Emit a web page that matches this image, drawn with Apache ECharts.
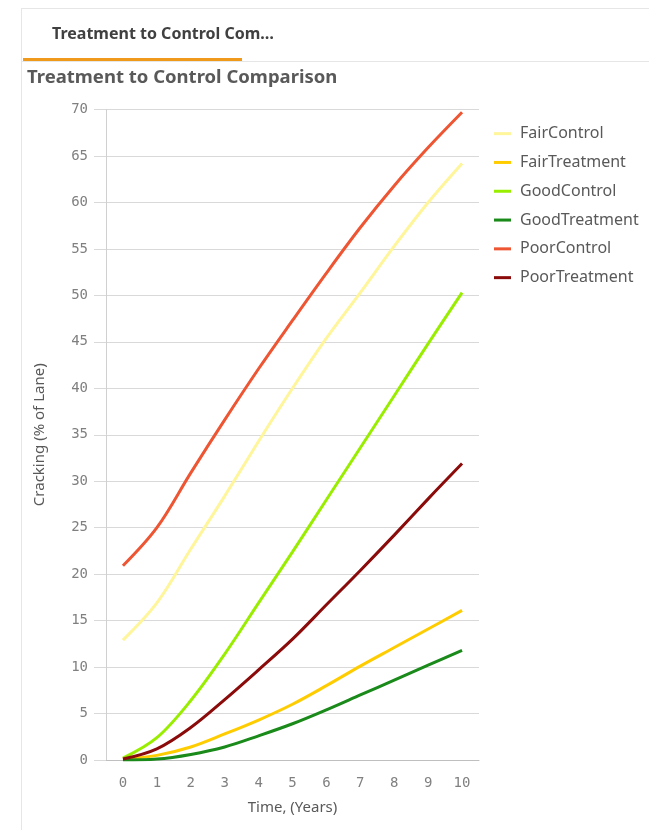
<!DOCTYPE html>
<html>
<head>
<meta charset="utf-8">
<script src="https://cdn.jsdelivr.net/npm/echarts@6/dist/echarts.min.js"></script>
<style>
html,body{margin:0;padding:0;background:#fff;}
#c{width:649px;height:830px;}
</style>
</head>
<body>
<div id="c"></div>
<script>
const years = ['0','1','2','3','4','5','6','7','8','9','10'];
const fairControl    = [12.9, 16.9, 22.7, 28.4, 34.3, 40.0, 45.4, 50.3, 55.3, 60.0, 64.2];
const fairTreatment  = [0.1, 0.5, 1.4, 2.8, 4.3, 6.0, 8.0, 10.1, 12.1, 14.1, 16.1];
const goodControl    = [0.2, 2.4, 6.4, 11.4, 16.9, 22.4, 28.0, 33.6, 39.2, 44.8, 50.3];
const goodTreatment  = [0.0, 0.1, 0.6, 1.4, 2.6, 3.9, 5.4, 7.0, 8.6, 10.2, 11.8];
const poorControl    = [20.9, 25.0, 30.9, 36.6, 42.1, 47.3, 52.4, 57.3, 61.8, 65.9, 69.7];
const poorTreatment  = [0.1, 1.2, 3.5, 6.5, 9.7, 13.0, 16.7, 20.4, 24.2, 28.1, 31.9];
const seriesNames = ['FairControl','FairTreatment','GoodControl','GoodTreatment','PoorControl','PoorTreatment'];
const seriesColors = ['#fff59a','#ffcc00','#99ee00','#1a8a1a','#ee5533','#8b0a0a'];
const seriesData = [fairControl, fairTreatment, goodControl, goodTreatment, poorControl, poorTreatment];

const chart = echarts.init(document.getElementById('c'), null, {renderer:'canvas'});
const font = '"Noto Sans", sans-serif';
const mono = '"DejaVu Sans Mono", monospace';
chart.setOption({
  animation: false,
  backgroundColor: '#ffffff',
  graphic: [
    {type:'line', shape:{x1:21,y1:8.5,x2:649,y2:8.5}, style:{stroke:'#e6e6e6',lineWidth:1}},
    {type:'line', shape:{x1:21.5,y1:8,x2:21.5,y2:830}, style:{stroke:'#e6e6e6',lineWidth:1}},
    {type:'line', shape:{x1:21,y1:61.5,x2:649,y2:61.5}, style:{stroke:'#e6e6e6',lineWidth:1}},
    {type:'rect', shape:{x:23,y:58,width:219,height:3}, style:{fill:'#f09a1c'}},
    {type:'text', left:52, top:26, style:{text:'Treatment to Control Com\u2026', font:'bold 16px "Noto Sans", sans-serif', fill:'#404040'}},
    {type:'text', left:27, top:68, style:{text:'Treatment to Control Comparison', font:'bold 18.5px "Noto Sans", sans-serif', fill:'#595959'}}
  ],
  legend: {
    orient:'vertical', left:489, top:118, itemGap:7.5, itemWidth:17, itemHeight:3,
    icon:'rect',
    textStyle:{fontFamily:font, fontSize:16, lineHeight:21.3, color:'#595959', padding:[0,0,0,4]},
    data: seriesNames
  },
  grid: {left:106, right:170, top:109.5, bottom:70, containLabel:false},
  xAxis: {
    type:'category', data: years, boundaryGap:true,
    name:'Time, (Years)', nameLocation:'middle', nameGap:40,
    nameTextStyle:{fontFamily:font, fontSize:15, color:'#595959'},
    axisLine:{show:true, lineStyle:{color:'#bfbfbf', width:1}},
    axisTick:{show:false},
    axisLabel:{fontFamily:mono, fontSize:14, color:'#808080', margin:16},
    splitLine:{show:false}
  },
  yAxis: {
    type:'value', min:0, max:70, interval:5,
    name:'Cracking (% of Lane)', nameLocation:'middle', nameGap:59,
    nameTextStyle:{fontFamily:font, fontSize:15, color:'#595959'},
    axisLine:{show:true, lineStyle:{color:'#d0d0d0', width:1}},
    axisTick:{show:true, inside:false, length:12, lineStyle:{color:'#d9d9d9'}},
    axisLabel:{fontFamily:mono, fontSize:14, color:'#808080', margin:18},
    splitLine:{show:true, lineStyle:{color:'#d9d9d9', width:1}}
  },
  series: seriesNames.map((n,i)=>({
    name:n, type:'line', data:seriesData[i], smooth:0.35, showSymbol:false, symbol:'none',
    lineStyle:{color:seriesColors[i], width:3}, itemStyle:{color:seriesColors[i]}
  }))
});
</script>
</body>
</html>
